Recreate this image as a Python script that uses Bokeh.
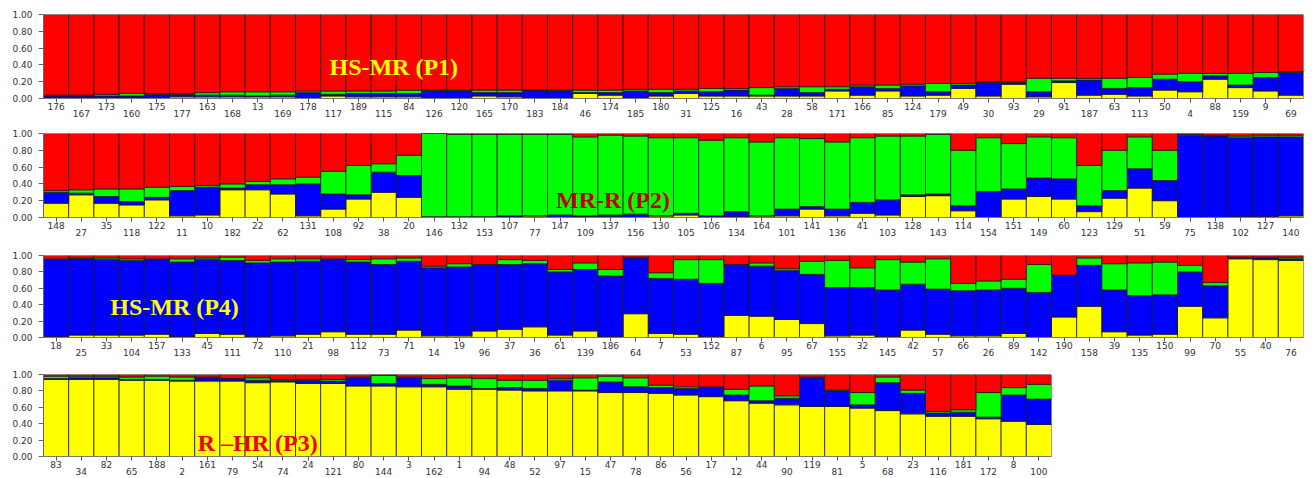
from bokeh.plotting import figure
from bokeh.models import (ColumnDataSource, Range1d, FixedTicker, LinearAxis, Label,
                          NumeralTickFormatter, CustomJSTickFormatter)
from bokeh.layouts import column
from bokeh.embed import file_html
from bokeh.resources import INLINE

# ---------------- data ----------------
p1_labels = ["176","167","173","160","175","177","163","168","13","169",
             "178","117","189","115","84","126","120","165","170","183",
             "184","46","174","185","180","31","125","16","43","28",
             "58","171","166","85","124","179","49","30","93","29",
             "91","187","63","113","50","4","88","159","9","69"]
p1_yellow = [.01,.01,.01,.01,.01,.02,.02,.02,.02,.02,.01,.03,.02,.02,.02,.01,.01,.03,.02,.01,
             .01,.06,.04,.01,.03,.06,.03,.03,.03,.03,.03,.09,.04,.09,.03,.04,.12,.03,.17,.02,
             .19,.04,.05,.03,.10,.08,.23,.13,.09,.04]
p1_blue = [.02,.02,.02,.02,.04,.03,.02,.02,.01,.02,.06,.02,.04,.04,.04,.08,.08,.04,.05,.09,
           .08,.01,.03,.08,.04,.03,.05,.07,.01,.09,.04,.02,.10,.03,.12,.04,.04,.16,.02,.06,
           .02,.18,.07,.10,.13,.12,.04,.03,.16,.27]
p1_green = [.01,.01,.02,.03,.01,.01,.03,.04,.05,.04,.02,.04,.03,.03,.04,.01,.01,.03,.03,.00,
            .01,.03,.03,.02,.04,.02,.04,.02,.09,.02,.07,.03,.02,.04,.02,.10,.02,.01,.01,.16,
            .03,.02,.12,.12,.06,.10,.03,.14,.06,.01]
p1_red = [.96,.96,.95,.94,.94,.94,.93,.92,.92,.92,.91,.91,.91,.91,.90,.90,.90,.90,.90,.90,
          .90,.90,.90,.89,.89,.89,.88,.88,.87,.86,.86,.86,.84,.84,.83,.82,.82,.80,.80,.76,
          .76,.76,.76,.75,.71,.70,.70,.70,.69,.68]

p2_labels = ["148","27","35","118","122","11","10","182","22","62",
             "131","108","92","38","20","146","132","153","107","77",
             "147","109","137","156","130","105","106","134","164","101",
             "141","136","41","103","128","143","114","154","151","149",
             "60","123","129","51","59","75","138","102","127","140"]
p2_yellow = [.17,.27,.17,.15,.21,.02,.03,.33,.33,.28,.02,.10,.22,.30,.24,.00,.00,.00,.00,.02,
             .00,.01,.01,.00,.02,.03,.00,.01,.02,.02,.10,.02,.05,.03,.25,.26,.08,.00,.22,.25,
             .22,.07,.23,.35,.20,.00,.00,.01,.01,.02]
p2_blue = [.13,.02,.08,.04,.03,.30,.33,.02,.06,.11,.38,.18,.05,.24,.26,.01,.01,.01,.02,.00,
           .03,.01,.02,.04,.00,.02,.02,.06,.00,.08,.03,.08,.13,.18,.02,.02,.06,.31,.12,.22,
           .24,.07,.09,.23,.24,.98,.97,.94,.95,.94]
p2_green = [.02,.04,.09,.15,.12,.05,.02,.05,.04,.07,.08,.27,.35,.10,.24,.99,.98,.98,.97,.97,
            .96,.94,.95,.93,.93,.90,.90,.88,.88,.85,.81,.80,.77,.76,.70,.71,.66,.64,.54,.49,
            .49,.48,.48,.38,.36,.01,.01,.02,.02,.02]
p2_red = [.68,.67,.66,.66,.64,.63,.62,.60,.57,.54,.52,.45,.38,.36,.26,.00,.01,.01,.01,.01,
          .01,.04,.02,.03,.05,.05,.08,.05,.10,.05,.06,.10,.05,.03,.03,.01,.20,.05,.12,.04,
          .05,.38,.20,.04,.20,.01,.02,.03,.02,.02]

p4_labels = ["18","25","33","104","157","133","45","111","72","110",
             "21","98","112","73","71","14","19","96","37","36",
             "61","139","186","64","7","53","152","87","6","95",
             "67","155","32","145","42","57","66","26","89","142",
             "190","158","39","135","150","99","70","55","40","76"]
p4_yellow = [.01,.03,.03,.03,.04,.01,.05,.04,.01,.02,.04,.07,.04,.04,.09,.02,.02,.08,.10,.13,
             .03,.08,.01,.29,.05,.04,.01,.27,.26,.22,.17,.02,.03,.01,.09,.04,.02,.02,.05,.00,
             .25,.38,.07,.03,.04,.38,.24,.96,.95,.94]
p4_blue = [.94,.93,.92,.91,.91,.91,.90,.90,.90,.90,.89,.88,.88,.85,.84,.83,.84,.80,.79,.77,
           .77,.75,.74,.68,.67,.67,.65,.61,.61,.60,.60,.59,.58,.57,.56,.55,.55,.56,.55,.55,
           .51,.50,.51,.48,.48,.42,.39,.01,.02,.02]
p4_green = [.01,.01,.02,.02,.01,.04,.02,.04,.03,.04,.03,.01,.03,.07,.04,.02,.04,.01,.06,.04,
            .03,.08,.08,.01,.07,.24,.29,.01,.04,.02,.16,.33,.24,.37,.27,.37,.09,.11,.11,.34,
            .00,.09,.32,.40,.40,.08,.04,.01,.01,.02]
p4_red = [.04,.03,.03,.04,.04,.04,.03,.02,.06,.04,.04,.04,.05,.04,.03,.13,.10,.11,.05,.06,
          .17,.09,.17,.02,.21,.05,.05,.11,.09,.16,.07,.06,.15,.05,.08,.04,.34,.31,.29,.11,
          .24,.03,.10,.09,.08,.12,.33,.02,.02,.02]

p3_labels = ["83","34","82","65","188","2","161","79","54","74",
             "24","121","80","144","3","162","1","94","48","52",
             "97","15","47","78","86","56","17","12","44","90",
             "119","81","5","68","23","116","181","172","8","100"]
p3_yellow = [.94,.94,.94,.93,.93,.92,.92,.92,.90,.91,.89,.89,.86,.86,.85,.85,.82,.82,.81,.80,
             .80,.80,.78,.78,.77,.75,.73,.68,.65,.63,.61,.61,.59,.56,.52,.49,.49,.46,.43,.39]
p3_blue = [.01,.02,.02,.01,.01,.01,.04,.03,.03,.02,.04,.03,.10,.03,.11,.03,.04,.01,.03,.03,
           .13,.01,.13,.07,.07,.08,.11,.07,.03,.08,.35,.19,.04,.34,.25,.04,.05,.02,.32,.31]
p3_green = [.03,.02,.02,.03,.04,.04,.01,.00,.03,.01,.01,.02,.01,.10,.01,.07,.10,.12,.09,.10,
            .02,.15,.07,.11,.03,.02,.01,.07,.18,.03,.01,.01,.15,.07,.04,.02,.03,.30,.09,.18]
p3_red = [.02,.02,.02,.03,.02,.03,.03,.05,.04,.06,.06,.06,.03,.01,.03,.05,.04,.05,.07,.07,
          .05,.04,.02,.04,.13,.15,.15,.18,.14,.26,.03,.19,.22,.03,.19,.45,.43,.22,.16,.12]

cluster_colors = ["#ffff00", "#0000ff", "#00ff00", "#ff0000"]

BAR_PX = 25.2
TICK_FONT = "DejaVu Sans"
TICK_SIZE = "9px"
TICK_COLOR = "#333333"


def make_panel(labels, yel, blu, grn, red, frame_h, top, title, tx, ty, tcolor):
    n = len(labels)
    xs = list(range(n))
    src = ColumnDataSource(dict(x=xs, yellow=yel, blue=blu, green=grn, red=red))
    p = figure(frame_width=int(round(n * BAR_PX)), frame_height=frame_h,
               x_range=Range1d(-0.5, n - 0.5), y_range=Range1d(0, 1),
               x_axis_type=None, y_axis_type=None,
               output_backend="svg", toolbar_location=None,
               min_border_left=43, min_border_right=6,
               min_border_top=top, min_border_bottom=0)
    p.outline_line_color = None
    p.background_fill_color = "white"
    p.border_fill_color = "white"
    p.vbar_stack(["yellow", "blue", "green", "red"], x="x", width=1.0, source=src,
                 color=cluster_colors, line_color="#1a1a1a", line_width=0.8)

    yax = LinearAxis(ticker=FixedTicker(ticks=[0, 0.2, 0.4, 0.6, 0.8, 1.0]),
                     formatter=NumeralTickFormatter(format="0.00"))
    yax.axis_line_color = "#666666"
    yax.major_tick_line_color = "#666666"
    yax.major_tick_out = 5
    yax.major_tick_in = 0
    yax.major_label_standoff = 6
    yax.major_label_text_font = TICK_FONT
    yax.major_label_text_font_size = TICK_SIZE
    yax.major_label_text_color = TICK_COLOR
    p.add_layout(yax, "left")

    fmt_even = CustomJSTickFormatter(args=dict(labels=labels),
                                     code="const i = Math.round(tick); return (i % 2 == 0) ? labels[i] : '';")
    axa = LinearAxis(ticker=FixedTicker(ticks=xs), formatter=fmt_even)
    axa.axis_line_color = "#777777"
    axa.major_tick_line_color = "#555555"
    axa.major_tick_out = 4
    axa.major_tick_in = 0
    axa.major_label_standoff = 0
    axa.major_label_text_font = TICK_FONT
    axa.major_label_text_font_size = TICK_SIZE
    axa.major_label_text_color = TICK_COLOR
    p.add_layout(axa, "below")

    fmt_odd = CustomJSTickFormatter(args=dict(labels=labels),
                                    code="const i = Math.round(tick); return labels[i];")
    axb = LinearAxis(ticker=FixedTicker(ticks=[i for i in xs if i % 2 == 1]), formatter=fmt_odd)
    axb.axis_line_color = None
    axb.major_tick_line_color = None
    axb.major_tick_out = 0
    axb.major_tick_in = 0
    axb.major_label_standoff = -3
    axb.major_label_text_font = TICK_FONT
    axb.major_label_text_font_size = TICK_SIZE
    axb.major_label_text_color = TICK_COLOR
    p.add_layout(axb, "below")

    p.add_layout(Label(x=tx, y=ty, text=title, text_font="Liberation Serif",
                       text_font_style="bold", text_font_size="24px", text_color=tcolor,
                       text_align="center", text_baseline="middle"))
    return p


f1 = make_panel(p1_labels, p1_yellow, p1_blue, p1_green, p1_red, 84, 14,
                "HS-MR (P1)", 13.4, 0.37, "#ffff00")
f2 = make_panel(p2_labels, p2_yellow, p2_blue, p2_green, p2_red, 84, 14,
                "MR-R (P2)", 22.1, 0.21, "#c00000")
f3 = make_panel(p4_labels, p4_yellow, p4_blue, p4_green, p4_red, 82, 17,
                "HS-MR (P4)", 4.7, 0.37, "#ffff00")
f4 = make_panel(p3_labels, p3_yellow, p3_blue, p3_green, p3_red, 82, 16,
                "R \u2013HR (P3)", 8.0, 0.16, "#ee0000")

layout = column(f1, f2, f3, f4, spacing=0)
open("out.html", "w").write(file_html(layout, INLINE))
